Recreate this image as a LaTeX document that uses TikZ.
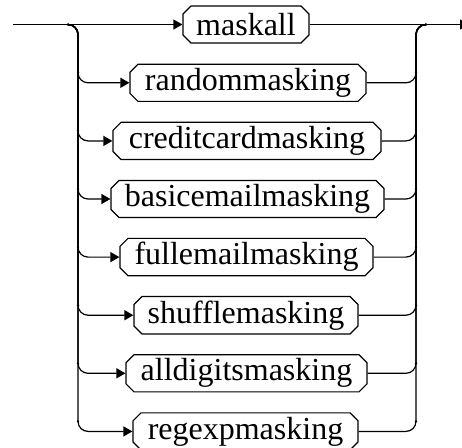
\documentclass[tikz,border=0pt]{standalone}
\usepackage{fontspec}
\setmainfont{Liberation Serif}
\usetikzlibrary{arrows.meta,shapes.misc}
\tikzset{
  kw/.style={draw, line width=1.2pt, chamfered rectangle, chamfered rectangle xsep=4pt,
    chamfered rectangle ysep=4pt, minimum height=37pt, inner sep=0pt,
    font=\fontsize{32}{38}\selectfont},
  conn/.style={line width=1.2pt, rounded corners=10pt},
  tip/.style={-{Triangle[length=9pt,width=10pt]}},
  jdot/.style={fill=black, circle, inner sep=0pt, minimum size=2.6pt}
}
\begin{document}
\begin{tikzpicture}[x=1pt,y=1pt]
\useasboundingbox (0,0) rectangle (462,-447);
% nodes
\node[kw, minimum width=126pt] (b0) at (246,-24.5) {maskall};
\node[kw, minimum width=236pt] (b1) at (248,-82.8) {randommasking};
\node[kw, minimum width=268pt] (b2) at (247,-140.9) {creditcardmasking};
\node[kw, minimum width=273pt] (b3) at (247.5,-199) {basicemailmasking};
\node[kw, minimum width=253pt] (b4) at (246.5,-257.1) {fullemailmasking};
\node[kw, minimum width=224pt] (b5) at (246,-315.2) {shufflemasking};
\node[kw, minimum width=241pt] (b6) at (246.5,-373.3) {alldigitsmasking};
\node[kw, minimum width=225pt] (b7) at (245.5,-431.4) {regexpmasking};
% coordinates
\coordinate (start) at (13,-24.5);
\coordinate (end) at (469,-24.5);
\coordinate (ls) at (68,-24.5);
\coordinate (re) at (426,-24.5);
\coordinate (lv) at (78,0);
\coordinate (rv) at (416,0);
% main line
\draw[conn, tip] (start) -- (b0.west);
\draw[conn, tip] (b0.east) -- (end);
% branches
\foreach \i in {1,...,7} {
  \draw[conn, tip] (ls) -| (lv |- b\i.west) -- (b\i.west);
  \draw[conn] (b\i.east) -| (rv |- re) -- (re);
  \node[jdot] at ([yshift=10pt]lv |- b\i.west) {};
  \node[jdot] at ([yshift=10pt]rv |- b\i.east) {};
}
\node[jdot] at (ls) {};
\node[jdot] at (re) {};
\end{tikzpicture}
\end{document}
